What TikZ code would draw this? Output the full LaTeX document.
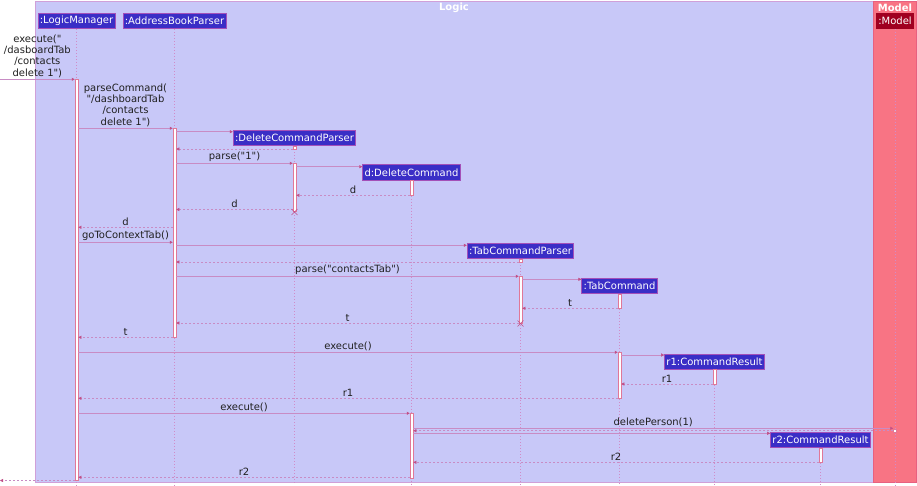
\documentclass[tikz,border=0pt]{standalone}
\usepackage{fontspec}
\setmainfont{DejaVu Sans}[Ligatures=TeXOff]
\usetikzlibrary{arrows.meta}
\definecolor{logicbg}{HTML}{C8C8F8}
\definecolor{logicbd}{HTML}{D0A0D8}
\definecolor{modelbg}{HTML}{F87484}
\definecolor{modelbd}{HTML}{E86080}
\definecolor{partfill}{HTML}{3A2EC6}
\definecolor{partbd}{HTML}{A450B8}
\definecolor{modelpart}{HTML}{A00020}
\definecolor{msg}{HTML}{C88CC4}
\definecolor{tipc}{HTML}{C05088}
\definecolor{actbd}{HTML}{E07898}
\definecolor{life}{HTML}{D08CC8}
\definecolor{txt}{HTML}{202020}
\begin{document}
\begin{tikzpicture}[x=1pt,y=-1pt,
  font=\fontsize{10}{11.3}\selectfont,
  part/.style={fill=partfill, draw=partbd, line width=0.8pt, text=white,
    inner xsep=1.8pt, inner ysep=0pt, minimum height=15.5pt},
  act/.style={fill=white, draw=actbd, line width=0.5pt, minimum width=3pt,
    inner sep=0pt, anchor=north},
  lifeline/.style={draw=life, line width=0.5pt, dash pattern=on 1pt off 2pt},
  msgline/.style={draw=msg, line width=0.5pt,
    -{Triangle[length=3pt,width=3pt,color=tipc]}},
  retline/.style={msgline, dash pattern=on 2pt off 2pt},
  lbl/.style={midway, above, inner sep=1.5pt, text=txt},
  xmark/.style={draw=tipc, line width=0.5pt},
  title/.style={text=white, font=\fontsize{10}{12}\selectfont\bfseries}
]
% canvas
\path[fill=white] (0,0) rectangle (917,485);
\useasboundingbox (0,0) rectangle (917,485);
% boxes
\draw[fill=logicbg, draw=logicbd, line width=0.8pt] (35.3,1) rectangle (873.3,482);
\draw[fill=modelbg, draw=modelbd, line width=0.6pt] (873.3,1) rectangle (916.5,482);
\node[title] (tlogic) at (454,7.5) {Logic};
\node[title] (tmodel) at (895,7.5) {Model};

% participants
\node[part] (LM) at (76.5,20.8) {:LogicManager};
\node[part] (ABP) at (174.5,20.8) {:AddressBookParser};
\node[part] (DCP) at (294.5,138) {:DeleteCommandParser};
\node[part] (DC) at (411.5,172.5) {d:DeleteCommand};
\node[part] (TCP) at (520.5,251) {:TabCommandParser};
\node[part] (TC) at (619.5,285.8) {:TabCommand};
\node[part] (R1) at (714.5,361.7) {r1:CommandResult};
\node[part] (R2) at (820.5,440) {r2:CommandResult};
\node[part, fill=modelpart, draw=modelpart] (MD) at (895,20.8) {:Model};

% lifelines
\foreach \p in {LM,ABP,DCP,DC,TCP,TC,R1,R2,MD}
  \draw[lifeline] (\p.south) -- (\p.south |- 0,485);

% activations
\node[act, minimum height=401pt] (aLM) at (76.5,79) {};
\node[act, minimum height=209pt] (aABP) at (174.5,128) {};
\node[act, minimum height=3pt] (aDCPs) at (294.5,146) {};
\node[act, minimum height=48pt] (aDCP) at (294.5,163) {};
\node[act, minimum height=15pt] (aDC) at (411.5,180) {};
\node[act, minimum height=3pt] (aTCPs) at (520.5,259) {};
\node[act, minimum height=47pt] (aTCP) at (520.5,276) {};
\node[act, minimum height=14pt] (aTC) at (619.5,294) {};
\node[act, minimum height=46pt] (aTCb) at (619.5,352) {};
\node[act, minimum height=15pt] (ar1) at (714.5,369) {};
\node[act, minimum height=65pt] (aDCb) at (411.5,413) {};
\node[act, minimum height=3pt] (aM) at (895,428.5) {};
\node[act, minimum height=14pt] (ar2) at (820.5,448) {};

% external points
\coordinate (ext1) at (0,79.3);
\coordinate (ext2) at (0,480.5);

% messages
\draw[msgline] (ext1) -- (aLM.west |- ext1)
  node[lbl, align=center] {execute("\\/dasboardTab\\/contacts\\delete 1")};
\draw[msgline] (aLM.east |- 0,128.3) -- (aABP.west |- 0,128.3)
  node[lbl, align=center] {parseCommand(\\"/dashboardTab\\/contacts\\delete 1")};
\draw[msgline] (aABP.east |- 0,131.7) -- (DCP.west |- 0,131.7);
\draw[retline] (aDCPs.west |- 0,149) -- (aABP.east |- 0,149);
\draw[msgline] (aABP.east |- 0,163.3) -- (aDCP.west |- 0,163.3) node[lbl] {parse("1")};
\draw[msgline] (aDCP.east |- 0,166.7) -- (DC.west |- 0,166.7);
\draw[retline] (aDC.west |- 0,195.3) -- (aDCP.east |- 0,195.3) node[lbl] {d};
\draw[retline] (aDCP.west |- 0,209.5) -- (aABP.east |- 0,209.5) node[lbl] {d};
\draw[xmark] (291.5,209) -- (297.5,215) (291.5,215) -- (297.5,209);
\draw[retline] (aABP.west |- 0,227.3) -- (aLM.east |- 0,227.3) node[lbl] {d};
\draw[msgline] (aLM.east |- 0,242.3) -- (aABP.west |- 0,242.3) node[lbl] {goToContextTab()};
\draw[msgline] (aABP.east |- 0,245.3) -- (TCP.west |- 0,245.3);
\draw[retline] (aTCPs.west |- 0,262) -- (aABP.east |- 0,262);
\draw[msgline] (aABP.east |- 0,276.3) -- (aTCP.west |- 0,276.3) node[lbl] {parse("contactsTab")};
\draw[msgline] (aTCP.east |- 0,279.3) -- (TC.west |- 0,279.3);
\draw[retline] (aTC.west |- 0,308.3) -- (aTCP.east |- 0,308.3) node[lbl] {t};
\draw[retline] (aTCP.west |- 0,323) -- (aABP.east |- 0,323) node[lbl] {t};
\draw[xmark] (517.5,320.5) -- (523.5,326.5) (517.5,326.5) -- (523.5,320.5);
\draw[retline] (aABP.west |- 0,337.3) -- (aLM.east |- 0,337.3) node[lbl] {t};
\draw[msgline] (aLM.east |- 0,352.3) -- (aTCb.west |- 0,352.3) node[lbl] {execute()};
\draw[msgline] (aTCb.east |- 0,355) -- (R1.west |- 0,355);
\draw[retline] (ar1.west |- 0,384) -- (aTCb.east |- 0,384) node[lbl] {r1};
\draw[retline] (aTCb.west |- 0,398.3) -- (aLM.east |- 0,398.3) node[lbl] {r1};
\draw[msgline] (aLM.east |- 0,413.3) -- (aDCb.west |- 0,413.3) node[lbl] {execute()};
\draw[msgline] (aDCb.east |- 0,428.3) -- (aM.west |- 0,428.3) node[lbl] {deletePerson(1)};
\draw[retline] (aM.west |- 0,430.7) -- (aDCb.east |- 0,430.7);
\draw[msgline] (aDCb.east |- 0,433.3) -- (R2.west |- 0,433.3);
\draw[retline] (ar2.west |- 0,462.3) -- (aDCb.east |- 0,462.3) node[lbl] {r2};
\draw[retline] (aDCb.west |- 0,477.3) -- (aLM.east |- 0,477.3) node[lbl] {r2};
\draw[retline] (aLM.west |- ext2) -- (ext2);
\end{tikzpicture}
\end{document}
